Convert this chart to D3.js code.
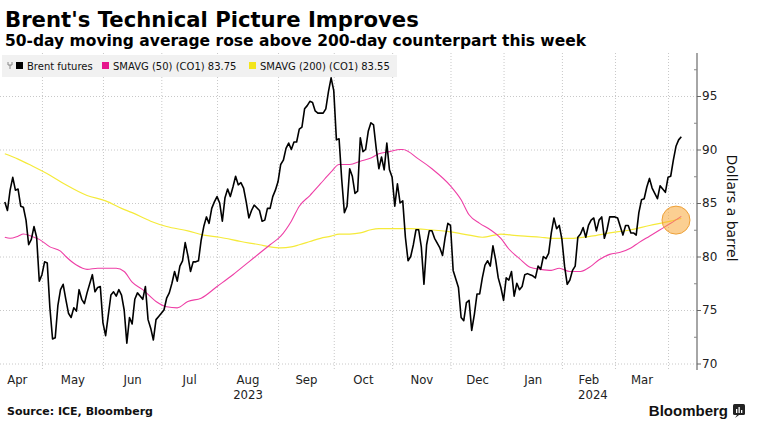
<!DOCTYPE html>
<html><head><meta charset="utf-8">
<script src="https://cdn.jsdelivr.net/npm/d3@7"></script>
<style>body{margin:0;background:#fff} svg{display:block}</style>
</head><body>
<svg id="c" width="762" height="429"></svg>
<script>
// ---------- data ----------
const title = "Brent's Technical Picture Improves";
const subtitle = "50-day moving average rose above 200-day counterpart this week";
const legendLabels = ["Brent futures", "SMAVG (50) (CO1) 83.75", "SMAVG (200) (CO1) 83.55"];
const yAxisTitle = "Dollars a barrel";
const sourceText = "Source: ICE, Bloomberg";

// x axis is in trading sessions (0 = 11 Apr 2023)
const monthLabels = ["Apr","May","Jun","Jul","Aug","Sep","Oct","Nov","Dec","Jan","Feb","Mar"];
const monthStarts = [-5,14,37,59,80,103,124,146,168,188,210,230,250];
const yearLabels = ["2023","2024"];
const yearStarts = [-5,188];
const lastSession = 255;
const yTicks = [70,75,80,85,90,95];
const yMinorTicks = [72.5,77.5,82.5,87.5,92.5,97.5];

const brentSession = [0,1,2,3,4,5,6,7,8,9,10,11,12,13,14,15,16,17,18,19,20,21,22,23,24,25,26,27,28,29,30,31,33,34,35,36,37,38,39,40,41,42,43,44,45,46,47,48,49,50,51,52,53,54,55,56,57,58,59,60,61,62,63,64,65,66,67,68,69,70,71,72,73,74,75,76,77,78,79,80,81,82,83,84,85,86,87,88,89,90,91,92,93,94,96,97,98,99,100,101,102,103,104,105,106,107,108,109,110,111,112,113,114,115,116,117,118,119,120,121,122,123,124,125,126,127,128,129,130,131,132,133,134,135,136,137,138,139,140,141,142,143,144,145,146,147,148,149,150,151,152,153,154,155,156,157,158,159,160,161,162,164,165,166,167,168,169,170,171,172,173,174,175,176,177,178,179,180,181,182,183,184,185,186,187,188,189,190,191,192,193,194,195,196,197,198,199,200,201,202,203,204,205,206,207,208,209,210,211,212,213,214,215,216,217,218,219,220,221,222,223,224,225,226,227,228,229,230,231,232,233,234,235,236,237,238,239,240,241,242,243,244,245,246,247,248,249,250,251,252,253,254,255];
const brentPrice = [85.1,84.3,86.2,87.4,86.2,86.3,84.7,84.6,83.4,81.1,81.6,82.8,81.8,77.7,78.3,79.5,79.4,75.2,72.3,72.4,75.4,76.9,77.4,76.0,74.7,74.3,75.2,74.9,76.9,76.0,75.6,76.6,78.3,76.7,77.1,77.2,73.8,72.6,74.5,76.4,76.7,76.3,76.9,76.4,75.0,71.9,74.3,73.7,76.0,76.6,76.3,76.0,77.2,74.1,73.3,72.2,74.1,74.4,74.7,75.0,76.1,76.6,77.5,78.6,77.7,79.1,79.6,81.3,80.1,78.6,79.5,79.5,79.6,81.5,82.8,83.7,83.1,84.5,85.1,85.6,85.0,83.3,85.5,86.3,85.6,86.5,87.5,86.7,86.9,86.4,85.1,83.6,84.3,84.8,84.3,83.3,83.4,84.5,84.5,85.6,86.2,87.0,88.6,89.0,90.1,90.6,90.0,90.7,90.7,91.9,92.1,93.8,94.1,94.5,94.4,93.6,93.4,93.4,93.4,93.8,95.4,96.7,95.5,90.9,91.0,87.2,84.1,84.7,88.2,87.5,85.9,86.1,91.1,89.8,90.0,91.7,92.5,92.3,90.1,88.2,89.3,88.1,90.6,88.1,87.4,84.7,86.8,85.0,85.2,81.8,79.6,80.0,81.1,82.5,82.5,80.9,77.4,81.1,82.4,82.4,81.7,80.8,80.1,81.8,83.1,82.9,78.7,77.9,77.1,74.3,74.0,75.7,75.9,73.1,74.6,76.5,76.5,78.0,79.2,79.6,79.1,81.0,79.7,78.0,77.1,75.9,78.0,77.8,78.6,76.3,77.5,76.9,77.2,78.3,78.4,78.3,78.2,78.0,79.1,78.8,80.0,79.8,80.3,82.2,83.6,82.6,82.9,81.6,79.1,77.4,77.8,78.7,79.1,81.8,82.1,82.7,81.8,82.9,83.4,83.6,82.4,83.4,83.7,81.7,82.5,83.7,83.7,83.7,83.6,82.8,82.0,82.9,82.9,82.2,82.2,82.0,84.1,85.3,85.4,86.5,87.3,86.4,85.9,85.4,86.6,86.3,86.0,87.4,87.5,89.0,90.3,90.9,91.2];

const ma50Session = [0,2,5,7,10,13,17,21,23,27,31,35,38,42,45,48,52,57,61,65,69,74,80,86,92,96,100,104,108,111,115,119,123,126,130,134,138,141,145,149,150,156,161,168,172,175,179,183,187,190,194,198,202,206,209,213,217,221,224,228,232,236,239,243,247,251,255];
const ma50 = [81.8,81.7,81.9,82.1,81.9,81.6,80.9,80.5,80.0,79.2,78.8,78.9,78.9,78.9,78.6,77.6,76.9,75.8,75.3,75.2,75.8,76.1,77.2,78.3,79.5,80.3,81.1,81.9,83.3,84.7,85.7,86.8,87.9,88.6,88.6,88.9,89.2,89.6,89.8,90.0,90.0,89.1,88.2,86.6,85.3,83.9,83.1,82.5,81.7,80.7,79.8,79.0,78.8,78.7,78.9,78.6,78.6,79.1,79.7,80.2,80.4,80.8,81.3,81.9,82.5,83.1,83.75];

const ma200Session = [0,5,10,17,23,31,38,44,48,55,61,69,75,81,89,96,100,104,108,111,115,119,123,126,130,134,138,141,145,153,160,168,175,180,187,191,196,202,206,213,221,228,236,243,251,255];
const ma200 = [89.6,89.1,88.5,87.6,86.7,85.7,85.2,84.5,84.1,83.3,82.8,82.4,82.0,81.8,81.4,81.1,80.9,80.8,80.9,81.1,81.4,81.7,81.9,82.1,82.1,82.2,82.5,82.6,82.6,82.6,82.5,82.3,82.0,81.8,82.1,82.0,81.9,81.8,81.7,81.7,81.9,82.2,82.5,82.9,83.3,83.55];

const crossSession = 253, crossValue = 83.4;

// ---------- chart ----------
const svg = d3.select("#c");
const plotTop = 53, plotBottom = 369, axisX = 697;
const x = d3.scaleLinear().domain([0, lastSession]).range([4.8, 681.3]);
const y = d3.scaleLinear().domain([70, 95]).range([363.5, 96]);

const sans = "'DejaVu Sans', Verdana, sans-serif";
const cond = "'DejaVu Sans Condensed', 'DejaVu Sans', sans-serif";

// titles
svg.append("text").attr("x", 5).attr("y", 27).text(title)
  .attr("font-family", sans).attr("font-weight", "bold").attr("font-size", 21.2).attr("fill", "#000");
svg.append("text").attr("x", 5).attr("y", 46).text(subtitle)
  .attr("font-family", sans).attr("font-weight", "bold").attr("font-size", 15.5).attr("fill", "#000");

// horizontal gridlines
const gH = svg.append("g").attr("transform", `translate(${axisX},0)`)
  .call(d3.axisLeft(y).tickValues(yTicks).tickSize(axisX).tickFormat(""));
gH.select(".domain").remove();
gH.selectAll("line").attr("stroke", "#c8c8c8").attr("stroke-dasharray", "1,2");

// vertical gridlines at month starts
const gV = svg.append("g").attr("transform", `translate(0,${plotBottom})`)
  .call(d3.axisBottom(x).tickValues(monthStarts.filter(d => d > 0)).tickSize(-(plotBottom - plotTop)).tickFormat(""));
gV.select(".domain").remove();
gV.selectAll("line").attr("stroke", "#c8c8c8").attr("stroke-dasharray", "1,2");

// legend background
svg.append("rect").attr("x", 2).attr("y", 55).attr("width", 395).attr("height", 22).attr("fill", "#f1f1f1");
svg.append("path").attr("d", "M8,62 v3 h4 v-3 M10,65 v4").attr("stroke", "#888").attr("fill", "none").attr("stroke-width", 1);
const legColors = ["#000000", "#e6168c", "#f3e51c"];
const legSquareX = [16, 102, 249];
const legTextX = [27, 113, 260];
legendLabels.forEach((t, i) => {
  svg.append("rect").attr("x", legSquareX[i]).attr("y", 62).attr("width", 7).attr("height", 7).attr("fill", legColors[i]);
  svg.append("text").attr("x", legTextX[i]).attr("y", 69.5).text(t)
    .attr("font-family", sans).attr("font-size", 10).attr("fill", "#111");
});

// lines
const line = d3.line().x(d => x(d[0])).y(d => y(d[1]));
svg.append("path").datum(ma200Session.map((s, i) => [s, ma200[i]]))
  .attr("d", line.curve(d3.curveMonotoneX)).attr("fill", "none").attr("stroke", "#f5ea3a").attr("stroke-width", 1.2);
svg.append("path").datum(ma50Session.map((s, i) => [s, ma50[i]]))
  .attr("d", line.curve(d3.curveMonotoneX)).attr("fill", "none").attr("stroke", "#ee3fa6").attr("stroke-width", 1.1);
svg.append("path").datum(brentSession.map((s, i) => [s, brentPrice[i]]))
  .attr("d", line.curve(d3.curveLinear)).attr("fill", "none").attr("stroke", "#000").attr("stroke-width", 1.6)
  .attr("stroke-linejoin", "round");

// crossover marker
svg.append("circle").attr("cx", x(crossSession)).attr("cy", y(crossValue)).attr("r", 14)
  .attr("fill", "#f7a738").attr("fill-opacity", 0.55).attr("stroke", "#eea037").attr("stroke-width", 1);

// y axis
svg.append("line").attr("x1", axisX).attr("x2", axisX).attr("y1", plotTop).attr("y2", plotBottom + 1)
  .attr("stroke", "#888").attr("stroke-width", 1.5);
const gY = svg.append("g").attr("transform", `translate(${axisX},0)`)
  .call(d3.axisRight(y).tickValues(yTicks).tickSize(4).tickPadding(1));
gY.select(".domain").remove();
gY.selectAll("line").attr("stroke", "#666");
gY.selectAll("text").attr("font-family", sans).attr("font-size", 12).attr("fill", "#222");
const gYm = svg.append("g").attr("transform", `translate(${axisX},0)`)
  .call(d3.axisLeft(y).tickValues(yMinorTicks).tickSize(3).tickFormat(""));
gYm.select(".domain").remove();
gYm.selectAll("line").attr("stroke", "#888");

svg.append("text").attr("transform", `translate(727,208) rotate(90)`).attr("text-anchor", "middle")
  .text(yAxisTitle).attr("font-family", sans).attr("font-size", 14).attr("fill", "#111");

// x axis labels (month centred in its span)
const monthMid = monthLabels.map((m, i) => (monthStarts[i] + monthStarts[i + 1]) / 2);
const gX = svg.append("g").attr("transform", `translate(0,${plotBottom})`)
  .call(d3.axisBottom(x).tickValues(monthMid).tickSize(0).tickPadding(6).tickFormat((d, i) => monthLabels[i]));
gX.select(".domain").remove();
gX.selectAll("text").attr("font-family", cond).attr("font-size", 13).attr("fill", "#222");

const yearMid = yearLabels.map((t, i) => (yearStarts[i] + (i + 1 < yearStarts.length ? yearStarts[i + 1] : lastSession)) / 2);
const gYr = svg.append("g").attr("transform", `translate(0,${plotBottom + 17})`)
  .call(d3.axisBottom(x).tickValues(yearMid).tickSize(0).tickPadding(4).tickFormat((d, i) => yearLabels[i]));
gYr.select(".domain").remove();
gYr.selectAll("text").attr("font-family", cond).attr("font-size", 13).attr("fill", "#222");

// footer
svg.append("text").attr("x", 7).attr("y", 415).text(sourceText)
  .attr("font-family", sans).attr("font-weight", "bold").attr("font-size", 11).attr("fill", "#111");
svg.append("text").attr("x", 728).attr("y", 416).attr("text-anchor", "end").text("Bloomberg")
  .attr("font-family", "'Liberation Sans', Arial, sans-serif").attr("font-weight", "bold").attr("font-size", 15).attr("fill", "#111");
const logo = svg.append("g").attr("transform", "translate(733,404)");
logo.append("rect").attr("width", 12).attr("height", 11).attr("rx", 1.5).attr("fill", "#222");
logo.append("path").attr("d", "M2,14 l2,-3 h2 z").attr("fill", "#222");
[[3,5,1.3],[5.5,3,1.3],[8,6,1.3]].forEach(b => logo.append("rect").attr("x", b[0]).attr("y", b[1]).attr("width", b[2]).attr("height", 9 - b[1]).attr("fill", "#fff"));
</script>
</body></html>
